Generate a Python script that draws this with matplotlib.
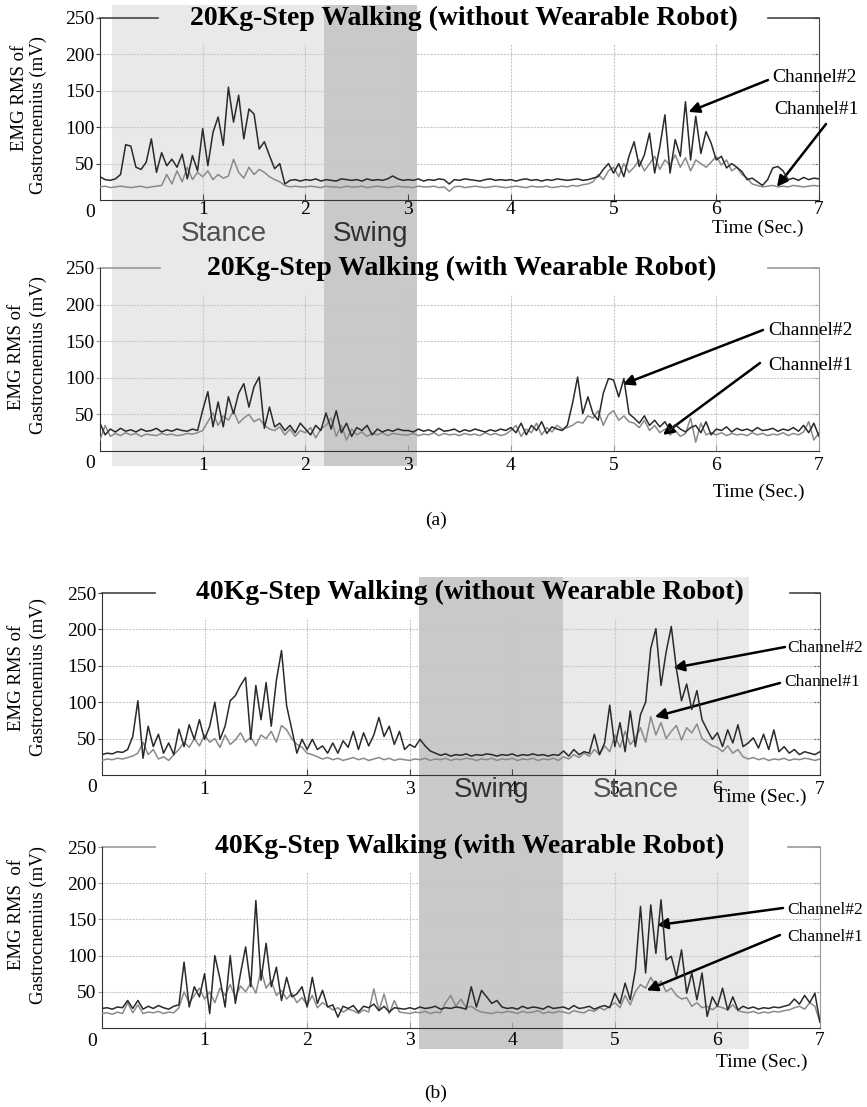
import numpy as np
import matplotlib.pyplot as plt
from matplotlib.patches import Rectangle

# EMG RMS (mV), one sample every 0.05 s from 0 to 7 s
t = np.round(np.arange(141) * 0.05, 2)

a1_ch2 = [32, 28, 27, 29, 35, 76, 74, 45, 42, 52, 84, 38, 65, 47, 56, 45, 63, 29, 61, 40,
          98, 47, 93, 114, 75, 155, 107, 144, 84, 125, 118, 70, 80, 61, 43, 50, 22, 27, 28, 26,
          28, 27, 29, 26, 28, 27, 26, 29, 28, 27, 28, 26, 29, 27, 28, 27, 29, 33, 29, 27,
          28, 27, 29, 26, 28, 27, 29, 28, 22, 28, 27, 29, 28, 27, 26, 28, 29, 27, 28, 27,
          28, 26, 28, 29, 27, 28, 26, 28, 27, 29, 28, 27, 28, 29, 27, 28, 30, 32, 42, 50,
          37, 50, 32, 60, 80, 46, 62, 92, 37, 73, 117, 37, 83, 60, 135, 55, 115, 64, 94, 78,
          55, 60, 44, 50, 45, 39, 28, 30, 25, 20, 28, 44, 46, 40, 28, 30, 27, 31, 28, 30,
          29]
a1_ch1 = [18, 19, 17, 18, 19, 18, 17, 18, 19, 17, 18, 19, 20, 35, 22, 40, 25, 45, 28, 38,
          32, 40, 28, 35, 30, 33, 56, 38, 30, 45, 35, 42, 38, 32, 28, 25, 20, 18, 19, 18,
          18, 19, 18, 17, 19, 18, 18, 17, 19, 18, 18, 19, 17, 18, 19, 18, 17, 18, 19, 18,
          18, 17, 19, 18, 18, 19, 17, 18, 12, 18, 19, 17, 18, 19, 18, 17, 18, 19, 18, 17,
          18, 19, 18, 17, 19, 18, 18, 19, 17, 18, 19, 18, 20, 19, 21, 22, 25, 35, 28, 40,
          45, 32, 50, 38, 45, 55, 40, 50, 60, 42, 55, 48, 62, 45, 58, 40, 55, 50, 45, 52,
          60, 48, 55, 40, 45, 35, 30, 22, 20, 18, 19, 20, 18, 19, 18, 20, 19, 18, 19, 20,
          19]

a2_ch2 = [38, 22, 30, 26, 31, 27, 29, 26, 30, 27, 28, 31, 26, 29, 27, 30, 28, 27, 30, 28,
          56, 81, 33, 67, 33, 74, 51, 79, 92, 60, 88, 101, 31, 60, 33, 38, 28, 35, 25, 38,
          30, 22, 35, 28, 52, 30, 55, 25, 38, 20, 32, 28, 35, 22, 30, 26, 29, 27, 30, 28,
          28, 26, 30, 27, 29, 26, 31, 27, 28, 30, 26, 29, 27, 30, 28, 26, 29, 27, 30, 28,
          32, 25, 38, 22, 35, 28, 40, 24, 33, 30, 28, 35, 65, 101, 51, 74, 51, 42, 79, 99,
          97, 74, 99, 51, 45, 38, 48, 35, 42, 33, 40, 28, 36, 30, 26, 32, 35, 25, 40, 22,
          30, 28, 33, 26, 31, 28, 30, 27, 32, 28, 29, 31, 27, 30, 28, 32, 27, 35, 25, 38,
          20]
a2_ch1 = [15, 35, 20, 24, 21, 25, 22, 24, 20, 23, 22, 21, 24, 22, 23, 21, 22, 24, 23, 25,
          28, 40, 52, 35, 48, 42, 55, 38, 45, 50, 40, 44, 35, 30, 28, 33, 22, 30, 20, 28,
          25, 32, 18, 30, 35, 45, 20, 35, 15, 30, 22, 26, 20, 24, 22, 25, 21, 24, 23, 22,
          22, 24, 21, 23, 22, 25, 21, 24, 22, 23, 21, 24, 22, 23, 21, 25, 22, 24, 21, 23,
          28, 35, 20, 30, 25, 38, 22, 32, 26, 35, 30, 32, 35, 40, 38, 48, 45, 55, 35, 50,
          55, 42, 48, 40, 38, 32, 42, 28, 35, 25, 30, 22, 28, 20, 24, 45, 12, 38, 22, 25,
          22, 25, 21, 24, 22, 23, 21, 25, 22, 24, 21, 23, 22, 25, 21, 24, 22, 26, 40, 15,
          25]

b1_ch2 = [28, 30, 29, 32, 31, 35, 53, 102, 23, 67, 39, 56, 30, 44, 28, 63, 39, 69, 49, 76,
          49, 67, 100, 49, 67, 102, 109, 123, 134, 49, 123, 76, 127, 67, 130, 171, 95, 63, 30, 49,
          35, 49, 35, 40, 30, 44, 30, 47, 38, 60, 35, 58, 40, 55, 79, 53, 67, 42, 60, 35,
          42, 38, 49, 40, 33, 30, 27, 29, 26, 28, 27, 29, 26, 28, 27, 29, 28, 26, 28, 27,
          29, 26, 28, 27, 29, 27, 28, 26, 28, 27, 33, 26, 35, 28, 32, 30, 56, 28, 44, 96,
          39, 72, 32, 88, 39, 83, 100, 174, 201, 123, 169, 204, 146, 102, 125, 90, 116, 76, 62, 49,
          58, 39, 62, 44, 69, 39, 44, 51, 37, 56, 35, 62, 32, 39, 30, 35, 28, 32, 30, 28,
          32]
b1_ch1 = [20, 22, 21, 23, 22, 24, 26, 30, 45, 28, 35, 22, 25, 20, 28, 35, 45, 38, 50, 40,
          55, 45, 50, 38, 55, 42, 48, 58, 45, 52, 40, 55, 50, 60, 45, 68, 62, 50, 42, 38,
          30, 28, 25, 22, 24, 21, 23, 20, 22, 24, 21, 23, 20, 22, 24, 21, 23, 20, 22, 21,
          20, 22, 21, 23, 20, 22, 21, 23, 20, 22, 21, 23, 22, 20, 22, 21, 23, 20, 22, 21,
          23, 20, 22, 21, 23, 20, 22, 21, 23, 20, 25, 22, 28, 24, 30, 26, 35, 28, 40, 32,
          55, 38, 60, 42, 50, 65, 45, 80, 55, 72, 50, 60, 68, 48, 65, 58, 70, 50, 45, 40,
          38, 32, 40, 30, 35, 25, 22, 24, 21, 23, 20, 22, 21, 23, 20, 22, 21, 23, 22, 20,
          22]

b2_ch2 = [27, 28, 26, 29, 28, 38, 27, 38, 26, 30, 27, 31, 28, 26, 30, 32, 91, 29, 57, 43,
          75, 20, 100, 68, 29, 100, 34, 75, 112, 57, 176, 66, 117, 57, 84, 38, 70, 43, 47, 57,
          29, 70, 34, 52, 29, 32, 15, 30, 27, 31, 22, 30, 28, 33, 24, 30, 22, 28, 27, 26,
          28, 26, 29, 27, 28, 30, 26, 28, 27, 29, 28, 26, 57, 29, 52, 43, 34, 38, 29, 27,
          28, 26, 30, 27, 29, 28, 26, 30, 27, 28, 29, 26, 31, 27, 28, 30, 26, 29, 31, 28,
          48, 34, 62, 39, 80, 168, 76, 170, 103, 177, 94, 99, 71, 108, 48, 76, 39, 76, 16, 43,
          30, 55, 25, 43, 25, 30, 27, 29, 26, 28, 27, 29, 28, 30, 32, 40, 33, 45, 35, 48,
          8]
b2_ch1 = [20, 21, 19, 22, 20, 35, 21, 32, 20, 22, 21, 23, 20, 22, 21, 28, 50, 35, 45, 55,
          40, 50, 35, 55, 45, 60, 42, 58, 50, 62, 48, 80, 55, 65, 45, 52, 40, 48, 35, 42,
          32, 45, 28, 35, 30, 25, 28, 22, 26, 24, 20, 25, 22, 54, 24, 47, 20, 38, 22, 21,
          20, 22, 21, 23, 20, 22, 21, 35, 45, 30, 40, 28, 30, 25, 22, 21, 20, 22, 21, 23,
          22, 20, 23, 21, 22, 24, 20, 22, 21, 23, 22, 20, 24, 22, 21, 25, 23, 28, 25, 30,
          35, 28, 45, 32, 50, 60, 55, 70, 58, 65, 50, 55, 45, 40, 42, 30, 35, 28, 30, 25,
          30, 28, 25, 32, 24, 22, 21, 23, 20, 22, 21, 23, 22, 24, 25, 28, 30, 26, 35, 30,
          8]

titles = ['20Kg-Step Walking (without Wearable Robot)',
          '20Kg-Step Walking (with Wearable Robot)',
          '40Kg-Step Walking (without Wearable Robot)',
          '40Kg-Step Walking (with Wearable Robot)']
ylab1 = ['EMG RMS of', 'EMG RMS of', 'EMG RMS of', 'EMG RMS  of']
ylab2 = 'Gastrocnemius (mV)'
x_ticks = [1, 2, 3, 4, 5, 6, 7]
y_ticks = [50, 100, 150, 200, 250]
grid_y = [50, 100, 150, 200]

# gait phases (s): (a) stance / swing, (b) swing / stance
phase_a = [0.12, 2.18, 3.09]
phase_b = [3.09, 4.49, 6.31]

# arrow targets (time, mV) for Channel#2 and Channel#1
arrow_ch2 = [(5.73, 121), (5.09, 91), (5.57, 147), (5.41, 142)]
arrow_ch1 = [(6.59, 18), (5.48, 22), (5.39, 80), (5.31, 52)]

W, H = 867, 1107
fig = plt.figure(figsize=(W / 100, H / 100), dpi=100)
plt.rcParams['font.family'] = ['Liberation Serif', 'DejaVu Serif']


def fp(x, y):
    return (x / W, 1 - y / H)


# panel boxes in pixels: left, right, top, bottom
boxes = [(100, 819, 18, 200), (100, 819, 268, 451), (102, 820, 593, 775), (102, 820, 847, 1028)]
series = [(a1_ch1, a1_ch2), (a2_ch1, a2_ch2), (b1_ch1, b1_ch2), (b2_ch1, b2_ch2)]
top_segs = [((0, 0.081), (0.929, 1)), ((0, 0.083), (0.929, 1)),
            ((0, 0.074), (0.958, 1)), ((0, 0.074), (0.955, 1))]
frame_col = ['#444444', '#999999', '#444444', '#999999']
title_y = [18, 268, 592, 846]
title_x = [464, 462, 470, 470]
ylab_pos = [((20, 98), (38, 115)), ((17, 357), (38, 355)), ((17, 678), (38, 677)), ((17, 914), (38, 925))]
time_lab = [(758, 228), (759, 492), (761, 797), (762, 1062)]
tick_pad = [1, 4, 4, 3]
ch_size = [14, 14, 12.5, 12.5]
ch2_txt = [(772, 78), (768, 330), (787, 648), (787, 910)]
ch2_tail = [(768, 80), (763, 330), (785, 647), (783, 908)]
ch1_txt = [(774, 110), (768, 365), (784, 682), (787, 937)]
ch1_tail = [(826, 124), (760, 363), (780, 683), (780, 935)]

axes = []
for i, (l, r, tp, b) in enumerate(boxes):
    ax = fig.add_axes([l / W, 1 - b / H, (r - l) / W, (b - tp) / H])
    ax.set_facecolor('none')
    ch1, ch2 = series[i]
    ax.plot(t, ch1, color='#8a8a8a', lw=1.1, zorder=3)
    ax.plot(t, ch2, color='#2a2a2a', lw=1.1, zorder=4)
    ax.set_xlim(0, 7)
    ax.set_ylim(0, 250)
    ax.hlines(grid_y, 0, 7, colors='#c8c8c8', lw=0.8, linestyles=(0, (2, 1)), zorder=1)
    ax.vlines(x_ticks[:-1], 0, 215, colors='#c8c8c8', lw=0.8, linestyles=(0, (2, 1)), zorder=1)
    ax.set_xticks(x_ticks)
    ax.set_yticks(y_ticks)
    ax.tick_params(axis='x', direction='in', length=4, pad=tick_pad[i], labelsize=14,
                   color=frame_col[i])
    ax.tick_params(axis='y', direction='out', length=3, pad=1, labelsize=14, right=False,
                   color=frame_col[i])
    sec = ax.secondary_yaxis('right')
    sec.set_yticks(y_ticks)
    sec.set_yticklabels([])
    sec.tick_params(direction='in', length=4, color=frame_col[i])
    sec.spines['right'].set_color(frame_col[i])
    ax.spines['top'].set_visible(False)
    ax.spines['right'].set_visible(False)
    ax.spines['left'].set_color('#333333')
    ax.spines['bottom'].set_color('#333333')
    for seg in top_segs[i]:
        ax.plot(seg, [1, 1], transform=ax.transAxes, color=frame_col[i], lw=1.2, clip_on=False)
    ax.annotate('0', xy=(0, 0), xycoords='axes fraction', xytext=(-10, -13),
                textcoords='offset pixels', ha='center', va='center', fontsize=14)
    fig.text(*fp(title_x[i], title_y[i]), titles[i], ha='center', va='center',
             fontsize=20, fontweight='bold')
    (x1, y1), (x2, y2) = ylab_pos[i]
    fig.text(*fp(x1, y1), ylab1[i], rotation=90, ha='center', va='center', fontsize=13.5)
    fig.text(*fp(x2, y2), ylab2, rotation=90, ha='center', va='center', fontsize=13.5)
    fig.text(*fp(*time_lab[i]), 'Time (Sec.)', ha='center', va='center', fontsize=14)
    # channel labels and arrows
    fig.text(*fp(*ch2_txt[i]), 'Channel#2', ha='left', va='center', fontsize=ch_size[i])
    fig.text(*fp(*ch1_txt[i]), 'Channel#1', ha='left', va='center', fontsize=ch_size[i])
    for head, tail in ((arrow_ch2[i], ch2_tail[i]), (arrow_ch1[i], ch1_tail[i])):
        ax.annotate('', xy=head, xycoords='data', xytext=fp(*tail), textcoords='figure fraction',
                    arrowprops=dict(arrowstyle='-|>', color='black', lw=1.8, mutation_scale=16,
                                    shrinkA=0, shrinkB=0), annotation_clip=False)
    axes.append(ax)


def fig_x(ax, x):
    return fig.transFigure.inverted().transform(ax.transData.transform((x, 0)))[0]


# phase shading spanning each pair of panels
shade = [(axes[0], phase_a, ('#e9e9e9', '#c9c9c9'), 5, 466),
         (axes[2], phase_b, ('#c9c9c9', '#e9e9e9'), 577, 1049)]
for ax, ph, cols, y0, y1 in shade:
    for k in range(2):
        xa, xb = fig_x(ax, ph[k]), fig_x(ax, ph[k + 1])
        fig.add_artist(Rectangle((xa, 1 - y1 / H), xb - xa, (y1 - y0) / H,
                                 transform=fig.transFigure, facecolor=cols[k],
                                 edgecolor='none', zorder=-5))

sans = ['Liberation Sans', 'DejaVu Sans']
fig.text(*fp(224, 234), 'Stance', ha='center', va='center', fontsize=20, color='#505050', family=sans)
fig.text(*fp(371, 234), 'Swing', ha='center', va='center', fontsize=20, color='#303030', family=sans)
fig.text(*fp(492, 790), 'Swing', ha='center', va='center', fontsize=20, color='#303030', family=sans)
fig.text(*fp(636, 790), 'Stance', ha='center', va='center', fontsize=20, color='#505050', family=sans)

fig.text(*fp(436, 520), '(a)', ha='center', va='center', fontsize=14)
fig.text(*fp(436, 1093), '(b)', ha='center', va='center', fontsize=14)

fig.savefig('out.png', dpi=100)
